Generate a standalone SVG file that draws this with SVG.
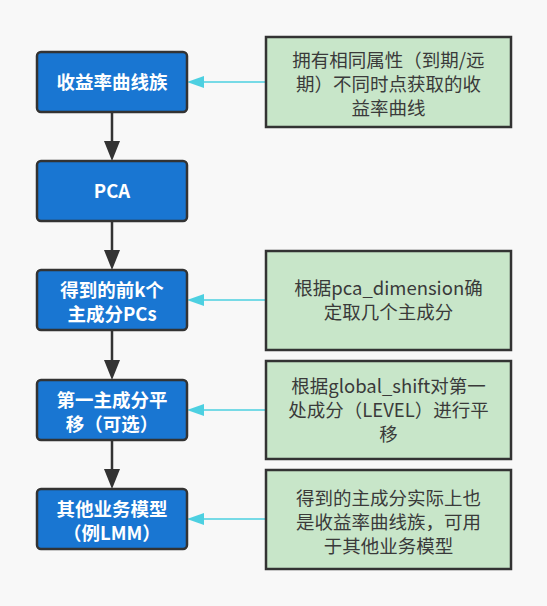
<svg xmlns="http://www.w3.org/2000/svg" width="547" height="606" viewBox="0 0 547 606">
<style>
.main rect{fill:#1976D2;stroke:#333;stroke-width:2.5}
.note rect{fill:#C8E6C9;stroke:#333;stroke-width:2.5}
.main text{fill:#fff;font-family:"Noto Sans CJK SC","Noto Sans",sans-serif;font-size:18.5px;font-weight:bold;text-anchor:middle}
.note text{fill:#3a3a3a;font-family:"Noto Sans CJK SC","Noto Sans",sans-serif;font-size:18.5px;text-anchor:middle}
.down{stroke:#333;stroke-width:2.5;fill:none}
.side{stroke:#4DD0E1;stroke-width:1.5;fill:none}
</style>
<rect width="547" height="606" fill="#f8f8f8"/>
<g id="connectors">
<line class="down" x1="112" y1="112" x2="112" y2="141"/><path d="M104,141 L120,141 L112,161 Z" fill="#333"/>
<line class="down" x1="112" y1="221" x2="112" y2="250"/><path d="M104,250 L120,250 L112,270 Z" fill="#333"/>
<line class="down" x1="112" y1="330" x2="112" y2="360"/><path d="M104,360 L120,360 L112,380 Z" fill="#333"/>
<line class="down" x1="112" y1="440" x2="112" y2="469"/><path d="M104,469 L120,469 L112,489 Z" fill="#333"/>
<line class="side" x1="266" y1="82" x2="204" y2="82"/><path d="M204,76 L204,88 L187,82 Z" fill="#4DD0E1"/>
<line class="side" x1="266" y1="300" x2="204" y2="300"/><path d="M204,294 L204,306 L187,300 Z" fill="#4DD0E1"/>
<line class="side" x1="266" y1="410" x2="204" y2="410"/><path d="M204,404 L204,416 L187,410 Z" fill="#4DD0E1"/>
<line class="side" x1="266" y1="519" x2="204" y2="519"/><path d="M204,513 L204,525 L187,519 Z" fill="#4DD0E1"/>
</g>
<g id="n1" class="main"><rect x="37" y="52" width="150" height="60" rx="4"/><text x="112" y="88.5">收益率曲线族</text></g>
<g id="n2" class="main"><rect x="37" y="161" width="150" height="60" rx="4"/><text x="112" y="197.5">PCA</text></g>
<g id="n3" class="main"><rect x="37" y="270" width="150" height="60" rx="4"/><text x="112" y="296.5">得到的前k个</text><text x="112" y="320.5">主成分PCs</text></g>
<g id="n4" class="main"><rect x="37" y="380" width="150" height="60" rx="4"/><text x="112" y="406.5">第一主成分平</text><text x="112" y="430.5">移（可选）</text></g>
<g id="n5" class="main"><rect x="37" y="489" width="150" height="60" rx="4"/><text x="112" y="515.5">其他业务模型</text><text x="112" y="539.5">（例LMM）</text></g>
<g id="r1" class="note"><rect x="266" y="37" width="245" height="90"/><text x="388.5" y="66.5">拥有相同属性（到期/远</text><text x="388.5" y="90.5">期）不同时点获取的收</text><text x="388.5" y="114.5">益率曲线</text></g>
<g id="r2" class="note"><rect x="266" y="251" width="245" height="99"/><text x="388.5" y="294.5">根据pca_dimension确</text><text x="388.5" y="318.5">定取几个主成分</text></g>
<g id="r3" class="note"><rect x="266" y="361" width="245" height="98"/><text x="388.5" y="392.5">根据global_shift对第一</text><text x="388.5" y="416.5">处成分（LEVEL）进行平</text><text x="388.5" y="440.5">移</text></g>
<g id="r4" class="note"><rect x="266" y="470" width="245" height="99"/><text x="388.5" y="504.5">得到的主成分实际上也</text><text x="388.5" y="528.5">是收益率曲线族，可用</text><text x="388.5" y="552.5">于其他业务模型</text></g>
</svg>
